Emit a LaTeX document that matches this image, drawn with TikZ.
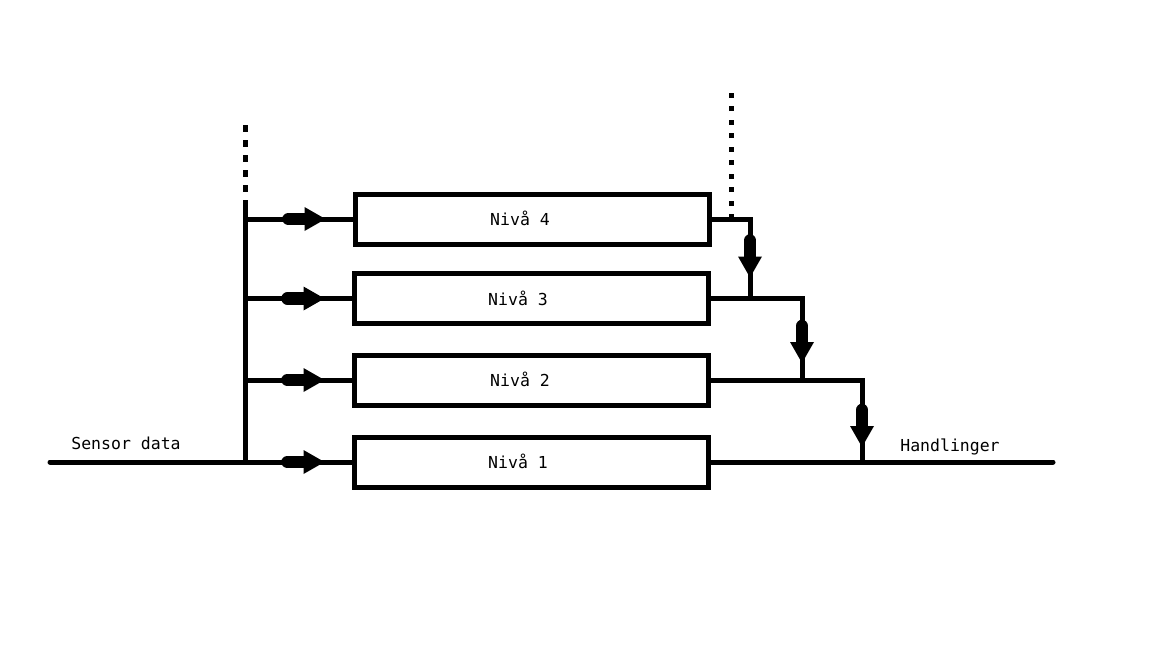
\documentclass[tikz,border=0pt]{standalone}
\usepackage{fontspec}
\setmonofont{DejaVu Sans Mono}
\usetikzlibrary{decorations.markings}
\tikzset{
  wire/.style={line width=5pt},
  levelbox/.style={draw, line width=5pt, minimum width=354pt, minimum height=50pt, inner sep=0pt},
  lbl/.style={anchor=base, inner sep=0pt, font=\ttfamily\fontsize{16.5}{19}\selectfont},
  dots/.style={line width=5pt, dash pattern=on 7pt off 8pt},
  flowmark/.style={postaction=decorate, decoration={markings,
      mark=at position -#1 with {
        \fill (0,-12) -- (21,0) -- (0,12) -- cycle;
        \draw[line width=12.5pt, line cap=round] (-16,0) -- (1,0);
      }}},
  flowmark/.default=40pt
}
\begin{document}
\begin{tikzpicture}[x=1pt, y=-1pt]
  \useasboundingbox (0,0) rectangle (1152,648);

  % the four levels
  \node[levelbox] (n4) at (532,219)   {};
  \node[levelbox] (n3) at (531,298.5) {};
  \node[levelbox] (n2) at (531,380)   {};
  \node[levelbox] (n1) at (531,462)   {};
  \node[lbl] (t4) at (520,225) {Nivå 4};
  \node[lbl] (t3) at (518,305) {Nivå 3};
  \node[lbl] (t2) at (520,386) {Nivå 2};
  \node[lbl] (t1) at (518,468) {Nivå 1};

  % sensor input and distribution bus
  \coordinate (busx)  at (245,0);
  \coordinate (bustop) at (245,207);
  \coordinate (dotL)  at (245,125);
  \coordinate (sin)   at (50,462);
  \draw[wire, line cap=round] (sin) -- (busx |- n1.west);
  \draw[wire] (busx |- n1.west) -- (bustop);
  \draw[dots] (dotL) -- (bustop);
  \draw[wire, flowmark=48pt] (busx |- n4.west) -- (n4.west);
  \draw[wire, flowmark=48pt] (busx |- n3.west) -- (n3.west);
  \draw[wire, flowmark=48pt] (busx |- n2.west) -- (n2.west);
  \draw[wire, flowmark=48pt] (busx |- n1.west) -- (n1.west);

  % outputs merging towards the action line
  \coordinate (c4) at (750,219);
  \coordinate (j3) at (750,298.5);
  \coordinate (c3) at (802,298.5);
  \coordinate (j2) at (802,380);
  \coordinate (c2) at (862,380);
  \coordinate (j1) at (862,462);
  \coordinate (out) at (1053,462);
  \coordinate (tap4) at (731,219);
  \coordinate (dotR) at (731,90);
  \draw[wire, flowmark=42pt] (n4.east) -- (c4) -- (j3);
  \draw[wire, flowmark=38pt] (n3.east) -- (c3) -- (j2);
  \draw[wire, flowmark=36pt] (n2.east) -- (c2) -- (j1);
  \draw[wire, line cap=round] (n1.east) -- (out);
  \draw[line width=5pt, dash pattern=on 5pt off 8.5pt] (tap4) -- (dotR);

  % labels
  \node[lbl] (sensor) at (126,449) {Sensor data};
  \node[lbl] (acts)   at (950,451) {Handlinger};
\end{tikzpicture}
\end{document}
